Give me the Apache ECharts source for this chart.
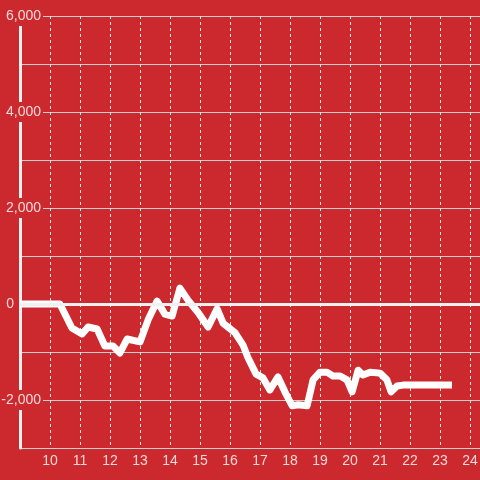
<!DOCTYPE html>
<html>
<head>
<meta charset="utf-8">
<script src="https://cdn.jsdelivr.net/npm/echarts@6/dist/echarts.min.js"></script>
<style>
  html, body { margin: 0; padding: 0; background: #cc292e; }
  #chart-container { width: 480px; height: 480px; }
</style>
</head>
<body>
<div id="chart-container"></div>
<script>
// x positions (axis units) and values of the line
const xValues = [9.0, 10.33, 10.73, 11.07, 11.27, 11.57, 11.83, 12.1, 12.33, 12.57, 13.0, 13.27, 13.57,
  13.83, 14.07, 14.33, 14.6, 14.93, 15.27, 15.57, 15.77, 16.17, 16.43, 16.6, 16.87, 17.1, 17.33,
  17.6, 17.83, 18.07, 18.27, 18.57, 18.77, 19.0, 19.23, 19.43, 19.67, 19.9, 20.07, 20.27, 20.43,
  20.67, 21.0, 21.23, 21.37, 21.57, 21.77, 23.4]
const yValues = [0, 0, -500, -625, -480, -520, -875, -875, -1020, -730, -790, -330, 60,
  -210, -250, 330, 80, -170, -480, -100, -400, -600, -850, -1120, -1460, -1540, -1790,
  -1520, -1830, -2120, -2100, -2120, -1580, -1420, -1420, -1500, -1500, -1580, -1830, -1380, -1480,
  -1420, -1440, -1580, -1830, -1710, -1690, -1690]
const yTickLabels = [-2000, 0, 2000, 4000, 6000]

const bg = '#cc292e'
const labelColor = 'rgba(255,255,255,0.82)'

const chart = echarts.init(document.getElementById('chart-container'))
const points = xValues.map((x, i) => [x, yValues[i]])

const option = {
  backgroundColor: bg,
  animation: false,
  textStyle: { fontFamily: 'Liberation Sans' },
  grid: { left: 20, right: 0, top: 16, bottom: 32, containLabel: false, outerBoundsMode: 'none' },
  xAxis: {
    type: 'value',
    min: 9,
    max: 24.333,
    interval: 1,
    axisLine: { show: false },
    axisTick: { show: false },
    axisLabel: {
      color: labelColor,
      fontSize: 14,
      margin: 6,
      showMinLabel: false,
      showMaxLabel: false
    },
    splitLine: {
      show: true,
      lineStyle: { color: '#e6e6e6', width: 1, type: [3, 3] }
    }
  },
  yAxis: {
    type: 'value',
    min: -3000,
    max: 6000,
    interval: 1000,
    axisLine: { show: true, lineStyle: { color: '#f0f0f0', width: 3 } },
    axisTick: { show: false },
    axisLabel: {
      color: labelColor,
      fontSize: 14,
      margin: -23,
      formatter: v => {
        if (yTickLabels.indexOf(v) < 0) return ''
        if (v === 0) return '{z|0}{gap|}'
        return '{b|' + v.toLocaleString('en-US') + '}'
      },
      rich: {
        b: { color: labelColor, fontSize: 14, backgroundColor: bg, padding: [3, 2, 3, 2] },
        z: { color: labelColor, fontSize: 14, backgroundColor: bg, padding: [3, 2, 3, 2] },
        gap: { width: 27 }
      }
    },
    splitLine: {
      show: true,
      lineStyle: { color: '#cfcfcf', width: 1 }
    }
  },
  series: [{
    type: 'line',
    data: points,
    showSymbol: false,
    symbol: 'none',
    lineStyle: { color: '#ffffff', width: 7, join: 'round' },
    markLine: {
      silent: true,
      symbol: ['none', 'none'],
      label: { show: false },
      lineStyle: { color: '#f0f0f0', width: 3, type: 'solid' },
      data: [{ yAxis: 0 }]
    }
  }]
}
chart.setOption(option)
</script>
</body>
</html>
